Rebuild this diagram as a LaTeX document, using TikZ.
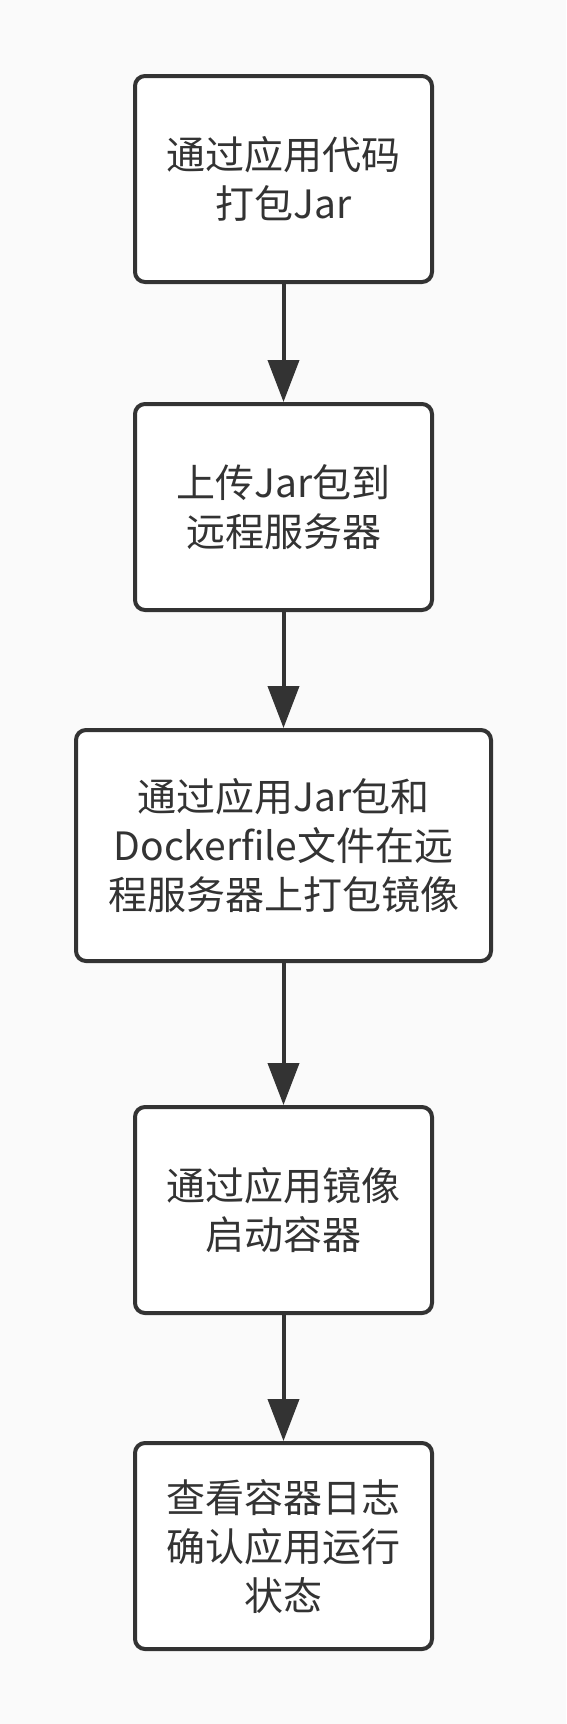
\documentclass[tikz,border=0pt]{standalone}
\usepackage{fontspec}
\setmainfont{Noto Sans CJK SC}
\usepackage{tikz}
\usetikzlibrary{positioning,arrows.meta}
\definecolor{linegray}{HTML}{333333}
\definecolor{paper}{HTML}{FAFAFA}

\begin{document}
\begin{tikzpicture}[
      x=1pt, y=1pt,
      stage/.style={rectangle, rounded corners=10pt, draw=linegray, fill=white, line width=4pt,
        minimum width=297pt, minimum height=206pt, align=center, text=linegray,
        font=\fontsize{39}{49}\selectfont},
      pointer/.style={line width=4pt, draw=linegray, -{Triangle[width=31pt,length=42pt]}}
      ]
      \fill[paper] (0,0) rectangle (566,-1724);
      \useasboundingbox (0,0) rectangle (566,-1724);
      \node[stage] (jar) at (283.5,-179) {通过应用代码\\打包Jar};
      \node[stage, below=118pt of jar] (upload) {上传Jar包到\\远程服务器};
      \node[stage, below=116pt of upload, minimum width=415pt, minimum height=231pt] (image) {
        通过应用Jar包和\\Dockerfile文件在远\\程服务器上打包镜像
      };
      \node[stage, below=142pt of image] (run) {通过应用镜像\\启动容器};
      \node[stage, below=126pt of run] (log) {查看容器日志\\确认应用运行\\状态};
      \path (jar) edge [pointer] (upload);
      \path (upload) edge [pointer] (image);
      \path (image) edge [pointer] (run);
      \path (run) edge [pointer] (log);
    \end{tikzpicture}
\end{document}
